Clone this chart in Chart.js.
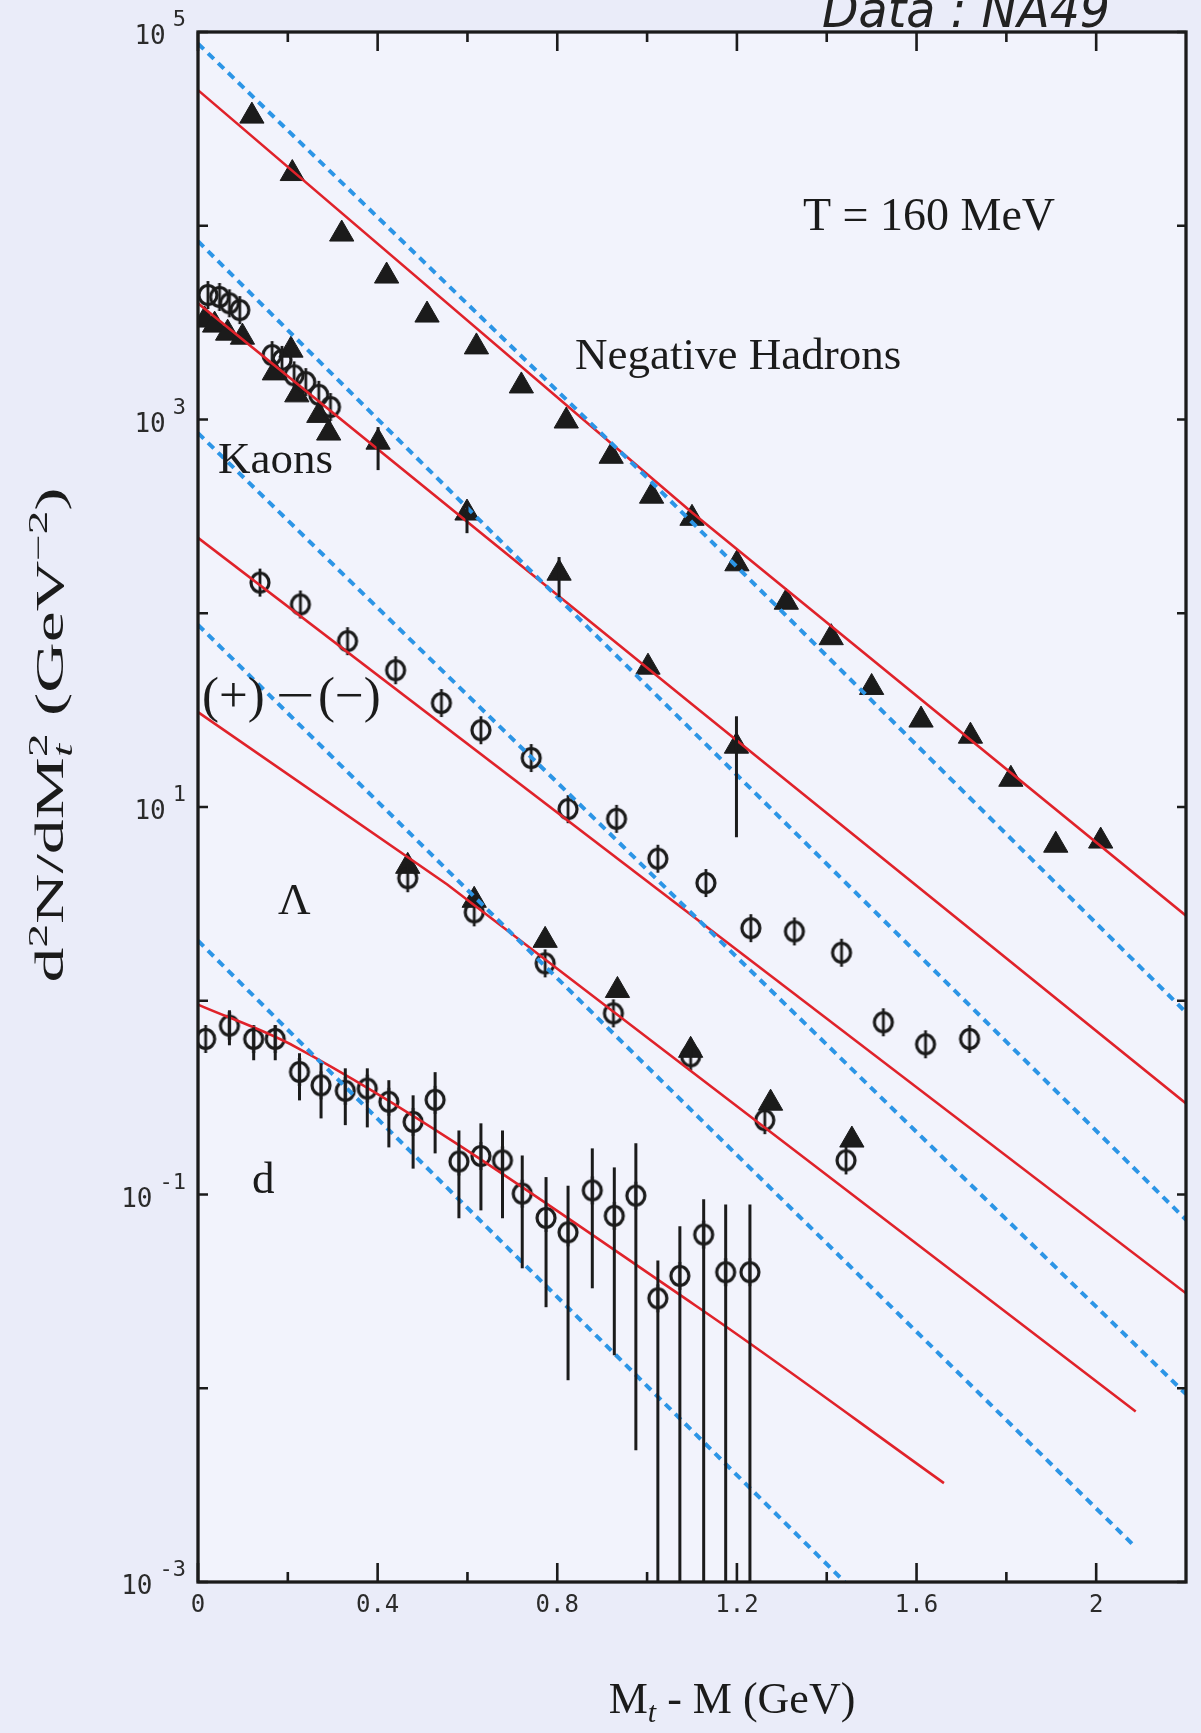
<!DOCTYPE html>
<html>
<head>
<meta charset="utf-8">
<title>Mt spectra - NA49</title>
<script src="https://cdn.jsdelivr.net/npm/chart.js@4.4.1/dist/chart.umd.min.js"></script>
<style>
  html, body { margin: 0; padding: 0; background: #eceefa; }
  #chart { display: block; }
</style>
</head>
<body>
<canvas id="chart" width="1201" height="1733"></canvas>
<script>
"use strict";

// x: Mt - M (GeV), y: d2N/dMt2 (GeV^-2)
const xLabelTicks = [0, 0.4, 0.8, 1.2, 1.6, 2];
const xMinorTicks = [0.2, 0.6, 1.0, 1.4, 1.8];
const yLabelPowers = [5, 3, 1, -1, -3];
const yDecadePowers = [-3, -2, -1, 0, 1, 2, 3, 4, 5];

// negative hadrons (filled triangles)
const hadronX = [0.12, 0.21, 0.32, 0.42, 0.51, 0.62, 0.72, 0.82, 0.92, 1.01, 1.10, 1.20, 1.31, 1.41, 1.50, 1.61, 1.72, 1.81, 1.91, 2.01];
const hadronY = [36800, 18600, 9060, 5500, 3460, 2370, 1490, 982, 646, 402, 309, 180, 114, 74.8, 41.4, 28.1, 23.2, 13.9, 6.35, 6.67];

// kaons: triangles and open circles
const kaonTriX = [0.015, 0.037, 0.066, 0.099, 0.170, 0.207, 0.220, 0.269, 0.291, 0.401, 0.599, 0.804, 1.002, 1.199];
const kaonTriY = [3260, 3070, 2790, 2660, 1740, 2280, 1340, 1050, 851, 764, 329, 161, 52.7, 20.6];
const kaonTriHi = [null, null, null, null, null, null, null, null, null, 914, 370, 195, null, 29.4];
const kaonTriLo = [null, null, null, null, null, null, null, null, null, 548, 259, 121, null, 6.98];
const kaonCircX = [0.022, 0.048, 0.070, 0.093, 0.165, 0.187, 0.214, 0.240, 0.269, 0.295];
const kaonCircY = [4390, 4290, 3980, 3670, 2150, 2030, 1690, 1560, 1340, 1160];

// (+) - (-) : open circles
const netX = [0.138, 0.228, 0.333, 0.440, 0.542, 0.630, 0.742, 0.824, 0.932, 1.024, 1.131, 1.231, 1.328, 1.433, 1.526, 1.620, 1.718];
const netY = [144, 111, 71.8, 50.8, 34.4, 24.9, 17.9, 9.75, 8.69, 5.41, 4.05, 2.37, 2.28, 1.77, 0.774, 0.596, 0.635];

// lambda: triangles and circles
const lambdaTriX = [0.467, 0.615, 0.773, 0.934, 1.097, 1.275, 1.456];
const lambdaTriY = [4.94, 3.30, 2.05, 1.13, 0.555, 0.296, 0.191];
const lambdaCircX = [0.467, 0.615, 0.773, 0.925, 1.097, 1.262, 1.443];
const lambdaCircY = [4.29, 2.86, 1.56, 0.861, 0.516, 0.242, 0.150];

// deuterons: open circles with error bars
const deutX = [0.017, 0.070, 0.124, 0.172, 0.226, 0.274, 0.328, 0.377, 0.425, 0.479, 0.528, 0.581, 0.630, 0.678, 0.722, 0.775, 0.824, 0.878, 0.927, 0.975, 1.024, 1.073, 1.126, 1.175, 1.229];
const deutY = [0.635, 0.743, 0.635, 0.635, 0.429, 0.366, 0.343, 0.352, 0.301, 0.237, 0.308, 0.148, 0.158, 0.150, 0.101, 0.0757, 0.0638, 0.105, 0.0776, 0.0986, 0.0291, 0.0380, 0.0621, 0.0397, 0.0397];
const deutHi = [null, 0.893, 0.729, 0.747, 0.536, 0.476, 0.448, 0.448, 0.389, 0.325, 0.428, 0.214, 0.233, 0.214, 0.159, 0.123, 0.111, 0.173, 0.138, 0.184, 0.0457, 0.0686, 0.0944, 0.0889, 0.0889];
const deutLo = [null, 0.589, 0.493, 0.493, 0.306, 0.247, 0.228, 0.222, 0.175, 0.136, 0.163, 0.0754, 0.0828, 0.0754, 0.0416, 0.0262, 0.0110, 0.0328, 0.0148, 0.00478, 0.0001, 0.0001, 0.0001, 0.0001, 0.0001];

// T = 160 MeV curves (red, solid)
const redHadronX = [0, 1.1, 2.2];
const redHadronY = [50100, 331, 2.75];
const redKaonX = [0, 1.1, 2.2];
const redKaonY = [3980, 33.9, 0.295];
const redNetX = [0, 2.2];
const redNetY = [245, 0.0309];
const redLambdaX = [0, 0.555, 2.088];
const redLambdaY = [30.9, 3.98, 0.00759];
const redDeutX = [0, 0.219, 1.106, 1.661];
const redDeutY = [0.955, 0.575, 0.0269, 0.00324];

// comparison curves (blue, dotted)
const blueHadronX = [0, 1.0, 2.2];
const blueHadronY = [87100, 501, 0.871];
const blueKaonX = [0, 2.2];
const blueKaonY = [8320, 0.0741];
const blueNetX = [0, 2.2];
const blueNetY = [851, 0.00933];
const blueLambdaX = [0, 2.088];
const blueLambdaY = [87.1, 0.00151];
const blueDeutX = [0, 1.44];
const blueDeutY = [2.04, 0.001];

const SERIF = '"Liberation Serif", "Times New Roman", serif';
const MONO = '"DejaVu Sans Mono", monospace';
const INK = "#1b1b1b";
const RED = "#e0222a";
const BLUE = "#2c95e6";

const toPoints = (xs, ys) => xs.map((x, i) => ({ x: x, y: ys[i] }));

/**
 * Open circle with a short vertical stroke through it
 */
function phiMarker() {
  const c = document.createElement("canvas");
  c.width = 26;
  c.height = 30;
  const g = c.getContext("2d");
  g.strokeStyle = INK;
  g.lineWidth = 3.2;
  g.beginPath();
  g.ellipse(13, 15, 9, 9.5, 0, 0, 2 * Math.PI);
  g.stroke();
  g.lineWidth = 2.8;
  g.beginPath();
  g.moveTo(13, 1);
  g.lineTo(13, 29);
  g.stroke();
  return c;
}
const PHI = phiMarker();

function triangles(xs, ys, extra) {
  return Object.assign({
    data: toPoints(xs, ys),
    pointStyle: "triangle",
    pointRadius: 14,
    backgroundColor: INK,
    borderColor: INK,
    borderWidth: 1,
  }, extra || {});
}

function circles(xs, ys, extra) {
  return Object.assign({
    data: toPoints(xs, ys),
    pointStyle: PHI,
    pointRadius: 10,
  }, extra || {});
}

function curve(xs, ys, color, dotted, extra) {
  return Object.assign({
    data: toPoints(xs, ys),
    showLine: true,
    pointRadius: 0,
    borderColor: color,
    borderWidth: dotted ? 4 : 2.6,
    borderDash: dotted ? [8, 6] : [],
    tension: 0,
  }, extra || {});
}

/**
 * Paper background and lighter frame interior
 */
const paper = {
  id: "paper",
  beforeDraw(chart) {
    const { ctx, chartArea: a } = chart;
    ctx.save();
    ctx.fillStyle = "#eaecf9";
    ctx.fillRect(0, 0, chart.width, chart.height);
    ctx.fillStyle = "#f2f3fc";
    ctx.fillRect(a.left, a.top, a.right - a.left, a.bottom - a.top);
    ctx.restore();
  },
};

/**
 * Vertical error bars read from errHi / errLo on a dataset
 */
const errorBars = {
  id: "errorBars",
  afterDatasetsDraw(chart) {
    const { ctx, chartArea: a, scales } = chart;
    ctx.save();
    ctx.beginPath();
    ctx.rect(a.left, a.top, a.right - a.left, a.bottom - a.top);
    ctx.clip();
    ctx.strokeStyle = INK;
    ctx.lineWidth = 3;
    chart.data.datasets.forEach((ds) => {
      if (!ds.errHi) return;
      ds.data.forEach((p, i) => {
        if (ds.errHi[i] == null) return;
        const px = scales.x.getPixelForValue(p.x);
        ctx.beginPath();
        ctx.moveTo(px, scales.y.getPixelForValue(ds.errHi[i]));
        ctx.lineTo(px, scales.y.getPixelForValue(ds.errLo[i]));
        ctx.stroke();
      });
    });
    ctx.restore();
  },
};

/**
 * Draws a list of text runs, {t, size, dy, italic, stack}
 */
function drawRuns(ctx, runs, x, y) {
  let cx = x;
  let stackW = 0;
  runs.forEach((r) => {
    ctx.font = (r.italic ? "italic " : "") + r.size + "px " + SERIF;
    const w = ctx.measureText(r.t).width;
    ctx.fillText(r.t, cx, y + (r.dy || 0));
    if (r.stack) {
      stackW = w;
    } else {
      cx += Math.max(w, stackW);
      stackW = 0;
    }
  });
  return cx - x;
}

function runsWidth(ctx, runs) {
  ctx.save();
  ctx.globalAlpha = 0;
  const w = drawRuns(ctx, runs, 0, 0);
  ctx.restore();
  return w;
}

/**
 * Frame, inward ticks, log labels and all the text
 */
const frame = {
  id: "frame",
  afterDraw(chart) {
    const { ctx, chartArea: a, scales } = chart;
    ctx.save();
    ctx.strokeStyle = INK;
    ctx.lineWidth = 3.3;
    ctx.strokeRect(a.left, a.top, a.right - a.left, a.bottom - a.top);

    ctx.lineWidth = 2.6;
    const xTick = (v, len) => {
      const px = scales.x.getPixelForValue(v);
      ctx.beginPath();
      ctx.moveTo(px, a.bottom);
      ctx.lineTo(px, a.bottom - len);
      ctx.moveTo(px, a.top);
      ctx.lineTo(px, a.top + len);
      ctx.stroke();
    };
    xLabelTicks.forEach((v) => xTick(v, 19));
    xMinorTicks.forEach((v) => xTick(v, 10));
    yDecadePowers.forEach((p) => {
      const py = scales.y.getPixelForValue(Math.pow(10, p));
      ctx.beginPath();
      ctx.moveTo(a.left, py);
      ctx.lineTo(a.left + 10, py);
      ctx.moveTo(a.right, py);
      ctx.lineTo(a.right - 9, py);
      ctx.stroke();
    });

    // y labels: 10 with a raised exponent
    ctx.fillStyle = "#2b2b2b";
    ctx.textBaseline = "alphabetic";
    yLabelPowers.forEach((p) => {
      const py = scales.y.getPixelForValue(Math.pow(10, p));
      const sup = String(p);
      ctx.font = "22px " + MONO;
      const sw = ctx.measureText(sup).width;
      const supLeft = a.left - 12 - sw;
      ctx.textAlign = "left";
      ctx.fillText(sup, supLeft, py - 6);
      ctx.font = "26px " + MONO;
      ctx.textAlign = "right";
      ctx.fillText("10", supLeft - 7, py + 12);
    });

    // annotations
    ctx.fillStyle = INK;
    ctx.textAlign = "left";
    ctx.font = "46px " + SERIF;
    ctx.fillText("T = 160 MeV", 803, 230);
    ctx.font = "45px " + SERIF;
    ctx.fillText("Negative Hadrons", 575, 369);
    ctx.fillText("Kaons", 218, 473);
    ctx.fillText("\u039b", 278, 914);
    ctx.fillText("d", 252, 1193);
    ctx.font = "51px " + SERIF;
    ctx.fillText("(+)", 202, 712);
    ctx.fillText("(\u2212)", 318, 712);
    ctx.save();
    ctx.translate(276, 712);
    ctx.scale(1.35, 1);
    ctx.fillText("\u2212", 0, 0);
    ctx.restore();

    // handwritten note, cut by the top edge
    ctx.save();
    ctx.font = "italic 50px \"DejaVu Sans\", sans-serif";
    ctx.fillStyle = "#222";
    ctx.translate(822, 27);
    ctx.scale(0.95, 1);
    ctx.fillText("Data : NA49", 0, 0);
    ctx.restore();

    // x title
    ctx.fillStyle = INK;
    const xRuns = [
      { t: "M", size: 44 },
      { t: "t", size: 30, dy: 9, italic: true },
      { t: " - M (GeV)", size: 44 },
    ];
    const xw = runsWidth(ctx, xRuns);
    drawRuns(ctx, xRuns, 732 - xw / 2, 1713);

    // y title, rotated
    const yRuns = [
      { t: "d", size: 40 },
      { t: "2", size: 27, dy: -16 },
      { t: "N/dM", size: 40 },
      { t: "2", size: 27, dy: -16, stack: true },
      { t: "t", size: 27, dy: 9, italic: true },
      { t: " (GeV", size: 40 },
      { t: "\u22122", size: 27, dy: -16 },
      { t: ")", size: 40 },
    ];
    const yw = runsWidth(ctx, yRuns);
    const stretch = 495 / yw;
    ctx.translate(63, 735);
    ctx.rotate(-Math.PI / 2);
    ctx.scale(stretch, 1);
    drawRuns(ctx, yRuns, -yw / 2, 0);
    ctx.restore();
  },
};

/**
 * Builds the spectra chart
 */
function buildChart() {
  const datasets = [
    curve(blueHadronX, blueHadronY, BLUE, true),
    curve(blueKaonX, blueKaonY, BLUE, true),
    curve(blueNetX, blueNetY, BLUE, true),
    curve(blueLambdaX, blueLambdaY, BLUE, true),
    curve(blueDeutX, blueDeutY, BLUE, true),
    curve(redHadronX, redHadronY, RED, false),
    curve(redKaonX, redKaonY, RED, false),
    curve(redNetX, redNetY, RED, false),
    curve(redLambdaX, redLambdaY, RED, false),
    curve(redDeutX, redDeutY, RED, false, { cubicInterpolationMode: "monotone" }),
    triangles(hadronX, hadronY),
    circles(kaonCircX, kaonCircY),
    triangles(kaonTriX, kaonTriY, { errHi: kaonTriHi, errLo: kaonTriLo }),
    circles(netX, netY),
    circles(lambdaCircX, lambdaCircY),
    triangles(lambdaTriX, lambdaTriY),
    circles(deutX, deutY, { errHi: deutHi, errLo: deutLo }),
  ];

  return new Chart(document.getElementById("chart"), {
    type: "scatter",
    data: { datasets: datasets },
    plugins: [paper, errorBars, frame],
    options: {
      responsive: false,
      animation: false,
      devicePixelRatio: 1,
      layout: { padding: { top: 32, right: 4, left: 0, bottom: 0 } },
      plugins: { legend: { display: false }, tooltip: { enabled: false } },
      scales: {
        x: {
          type: "linear",
          min: 0,
          max: 2.2,
          afterBuildTicks: (s) => { s.ticks = xLabelTicks.map((v) => ({ value: v })); },
          afterFit: (s) => { s.height = 151; },
          grid: { display: false, drawTicks: false },
          border: { display: false },
          ticks: {
            padding: 9,
            maxRotation: 0,
            color: "#2b2b2b",
            font: { family: MONO, size: 24 },
            callback: (v) => String(v),
          },
        },
        y: {
          type: "logarithmic",
          min: 1e-3,
          max: 1e5,
          afterFit: (s) => { s.width = 198; },
          grid: { display: false, drawTicks: false },
          border: { display: false },
          ticks: { display: false },
        },
      },
    },
  });
}

buildChart();
</script>
</body>
</html>
